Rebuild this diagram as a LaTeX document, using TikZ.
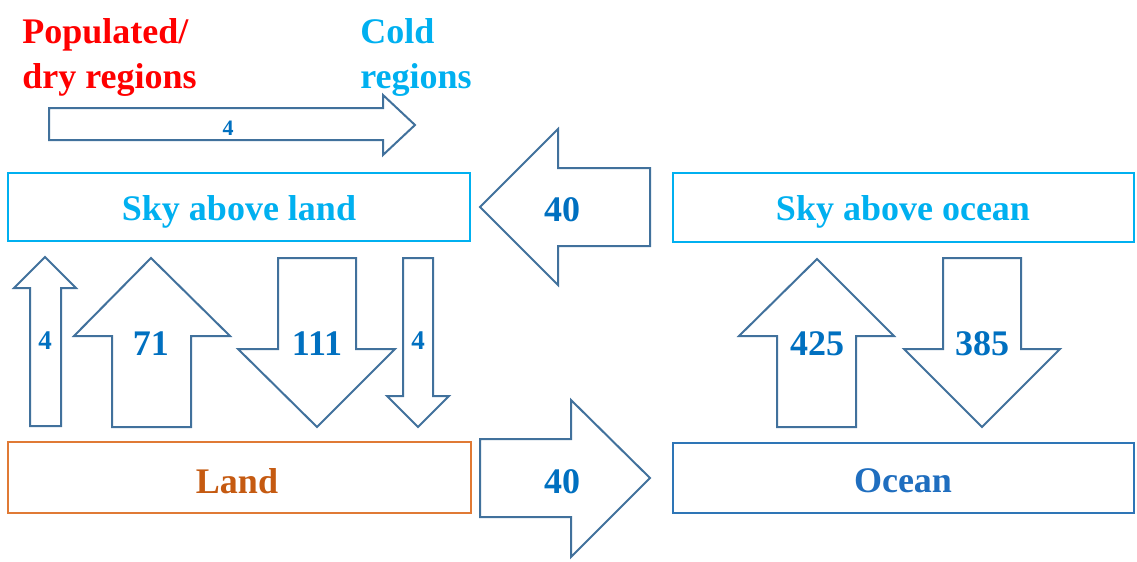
\documentclass[tikz,border=0pt]{standalone}
\usepackage{fontspec}
\setmainfont{Liberation Serif}
\definecolor{cred}{HTML}{FF0000}
\definecolor{ccyan}{HTML}{00B0F0}
\definecolor{landtxt}{HTML}{C55A11}
\definecolor{landbrd}{HTML}{E07A35}
\definecolor{oceantxt}{HTML}{1F6EBF}
\definecolor{oceanbrd}{HTML}{2E75B6}
\definecolor{numblue}{HTML}{0070C0}
\definecolor{arrline}{HTML}{41719C}
\begin{document}
\begin{tikzpicture}[x=0.5pt,y=-0.5pt,
  bigtxt/.style={font=\fontsize{18}{22.5}\selectfont\bfseries, inner sep=0pt},
  numtxt/.style={font=\fontsize{18}{22}\selectfont\bfseries, text=numblue, inner sep=0pt},
  smalltxt/.style={font=\fontsize{13.5}{16}\selectfont\bfseries, text=numblue, inner sep=0pt},
  tinytxt/.style={font=\fontsize{11}{13}\selectfont\bfseries, text=numblue, inner sep=0pt},
  blockarrow/.style={draw=arrline, line width=1pt, line join=miter, fill=white},
  boxstyle/.style={line width=1.3pt, fill=white}]
\useasboundingbox (0,0) rectangle (1137,562);

% Top region labels
\node[bigtxt, text=cred, anchor=north west, align=left] (pop) at (22,18) {Populated/\\dry regions};
\node[bigtxt, text=ccyan, anchor=north west, align=left] (cold) at (360,18) {Cold\\regions};

% Top horizontal arrow
\draw[blockarrow] (49,108) -- (383,108) -- (383,95) -- (415,125) -- (383,155) -- (383,140) -- (49,140) -- cycle;
\node[tinytxt] (a4top) at (228,128) {4};

% Boxes
\draw[boxstyle, draw=ccyan] (8,173) rectangle (470,241);
\node[bigtxt, text=ccyan] (skyland) at (239,212) {Sky above land};
\draw[boxstyle, draw=ccyan] (673,173) rectangle (1134,242);
\node[bigtxt, text=ccyan] (skyocean) at (903,212) {Sky above ocean};
\draw[boxstyle, draw=landbrd] (8,442) rectangle (471,513);
\node[bigtxt, text=landtxt] (land) at (237,481) {Land};
\draw[boxstyle, draw=oceanbrd] (673,443) rectangle (1134,513);
\node[bigtxt, text=oceantxt] (ocean) at (903,481) {Ocean};

% Horizontal 40 arrows
\draw[blockarrow] (650,168) -- (558,168) -- (558,129) -- (480,207) -- (558,285) -- (558,246) -- (650,246) -- cycle;
\node[numtxt] (h40a) at (562,210) {40};
\draw[blockarrow] (480,439) -- (571,439) -- (571,400) -- (650,478) -- (571,557) -- (571,517) -- (480,517) -- cycle;
\node[numtxt] (h40b) at (562,482) {40};

% Left vertical arrows
\draw[blockarrow] (30,426) -- (30,288) -- (14,288) -- (45,257) -- (76,288) -- (61,288) -- (61,426) -- cycle;
\node[smalltxt] (v4a) at (45,341) {4};
\draw[blockarrow] (112,427) -- (112,336) -- (74,336) -- (151,258) -- (230,336) -- (191,336) -- (191,427) -- cycle;
\node[numtxt] (v71) at (151,344) {71};
\draw[blockarrow] (278,258) -- (356,258) -- (356,349) -- (395,349) -- (317,427) -- (238,349) -- (278,349) -- cycle;
\node[numtxt] (v111) at (317,344) {111};
\draw[blockarrow] (403,258) -- (433,258) -- (433,396) -- (449,396) -- (418,427) -- (387,396) -- (403,396) -- cycle;
\node[smalltxt] (v4b) at (418,341) {4};

% Right vertical arrows
\draw[blockarrow] (777,427) -- (777,336) -- (739,336) -- (817,259) -- (894,336) -- (856,336) -- (856,427) -- cycle;
\node[numtxt] (v425) at (817,344) {425};
\draw[blockarrow] (943,258) -- (1021,258) -- (1021,349) -- (1060,349) -- (982,427) -- (904,349) -- (943,349) -- cycle;
\node[numtxt] (v385) at (982,344) {385};
\end{tikzpicture}
\end{document}
